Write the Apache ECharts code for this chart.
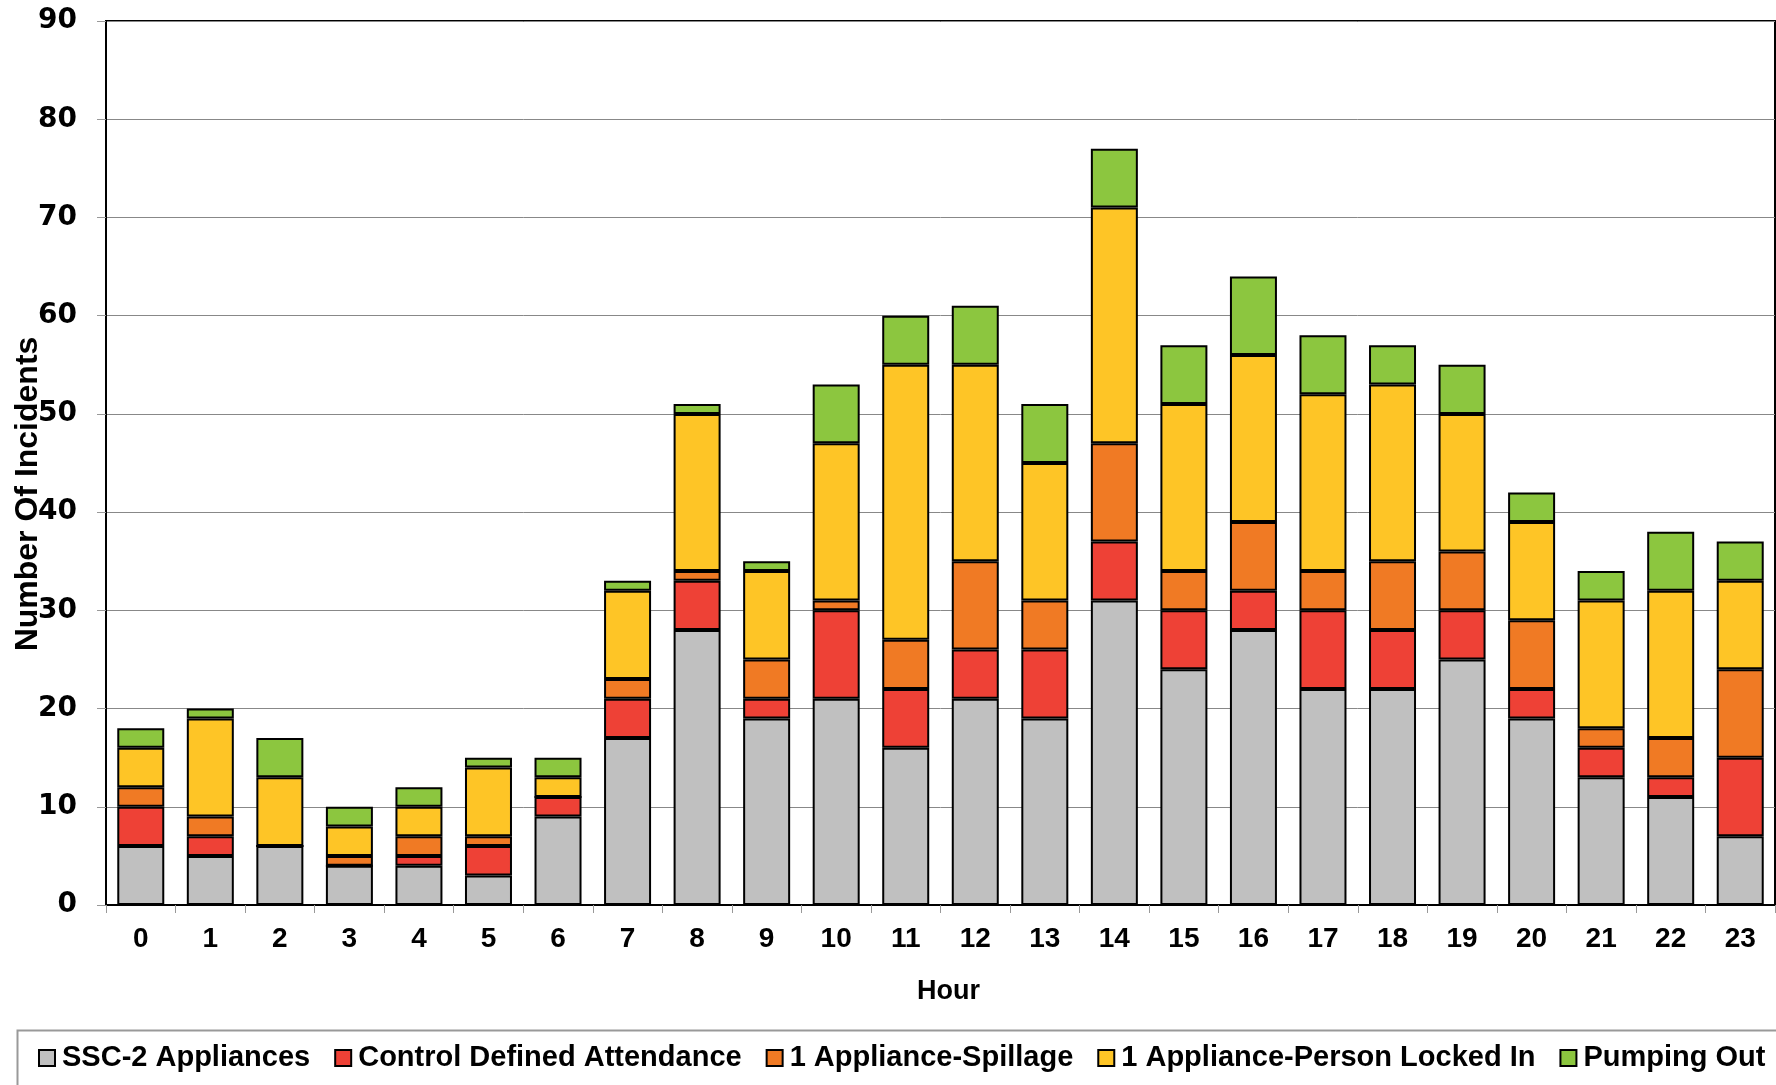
<!DOCTYPE html>
<html>
<head>
<meta charset="utf-8">
<script src="https://cdn.jsdelivr.net/npm/echarts@6/dist/echarts.min.js"></script>
<style>
html,body{margin:0;padding:0;background:#fff;}
#chart{width:1776px;height:1085px;}
</style>
</head>
<body>
<div id="chart"></div>
<script>
const hours = ['0','1','2','3','4','5','6','7','8','9','10','11','12','13','14','15','16','17','18','19','20','21','22','23'];
const ssc2Appliances      = [6,5,6,4,4,3,9,17,28,19,21,16,21,19,31,24,28,22,22,25,19,13,11,7];
const controlDefined      = [4,2,0,0,1,3,2,4,5,2,9,6,5,7,6,6,4,8,6,5,3,3,2,8];
const applianceSpillage   = [2,2,0,1,2,1,0,2,1,4,1,5,9,5,10,4,7,4,7,6,7,2,4,9];
const applianceLockedIn   = [4,10,7,3,3,7,2,9,16,9,16,28,20,14,24,17,17,18,18,14,10,13,15,9];
const pumpingOut          = [2,1,4,2,2,1,2,1,1,1,6,5,6,6,6,6,8,6,4,5,3,3,6,4];
const seriesNames = ['SSC-2 Appliances','Control Defined Attendance','1 Appliance-Spillage','1 Appliance-Person Locked In','Pumping Out'];
const yTicks = [0,10,20,30,40,50,60,70,80,90];

const colors = ['#C0C0C0','#EE4136','#F07A24','#FEC526','#8CC63F'];
const seriesData = [ssc2Appliances, controlDefined, applianceSpillage, applianceLockedIn, pumpingOut];
const FONT = "'Liberation Sans', Arial, sans-serif";

const chart = echarts.init(document.getElementById('chart'), null, {renderer:'canvas'});
chart.setOption({
  animation: false,
  backgroundColor: '#fff',
  textStyle: {fontFamily: FONT},
  grid: {
    left: 106, right: 1, top: 21, bottom: 180,
    outerBoundsMode: 'none',
    containLabel: false,
    show: true, borderColor: '#000', borderWidth: 2, backgroundColor: 'transparent'
  },
  graphic: [{
    type: 'rect', left: 15, top: 1028, z: -1,
    shape: {width: 1800, height: 100},
    style: {fill: 'none', stroke: '#999', lineWidth: 2}
  }],
  legend: {
    left: 38, top: 1043, width: 1760, padding: 0,
    itemWidth: 16, itemHeight: 16, itemGap: 24,
    icon: 'rect',
    itemStyle: {borderColor: '#000', borderWidth: 2},
    textStyle: {fontFamily: FONT, fontSize: 29, fontWeight: 'bold', color: '#000', lineHeight: 30, padding: [0,0,0,2]},
    data: seriesNames
  },
  xAxis: {
    type: 'category',
    data: hours,
    name: 'Hour',
    nameLocation: 'middle',
    nameGap: 73,
    nameMoveOverlap: false,
    nameTextStyle: {fontFamily: FONT, fontSize: 27, fontWeight: 'bold', color: '#000', padding: [0, 0, 0, 16]},
    axisLine: {lineStyle: {color: '#000', width: 2}},
    axisTick: {show: true, length: 8, lineStyle: {color: '#999', width: 1}},
    axisLabel: {fontFamily: FONT, fontSize: 28, fontWeight: 'bold', color: '#000', margin: 20}
  },
  yAxis: {
    type: 'value',
    min: yTicks[0], max: yTicks[yTicks.length-1], interval: 10,
    name: 'Number Of Incidents',
    nameLocation: 'middle',
    nameGap: 62,
    nameMoveOverlap: false,
    nameTextStyle: {fontFamily: FONT, fontSize: 32, fontWeight: 'bold', color: '#000', padding: [0, 62, 0, 0]},
    axisLine: {show: true, lineStyle: {color: '#000', width: 2}},
    axisTick: {show: true, length: 9, lineStyle: {color: '#999', width: 1}},
    axisLabel: {fontFamily: "'DejaVu Sans', sans-serif", fontSize: 28, fontWeight: 'bold', color: '#000', margin: 29},
    splitLine: {show: true, lineStyle: {color: '#888', width: 1}}
  },
  series: seriesNames.map((name, i) => ({
    name: name,
    type: 'bar',
    stack: 'total',
    barWidth: 47,
    data: seriesData[i],
    itemStyle: {color: colors[i], borderColor: '#000', borderWidth: 2}
  }))
});
</script>
</body>
</html>
